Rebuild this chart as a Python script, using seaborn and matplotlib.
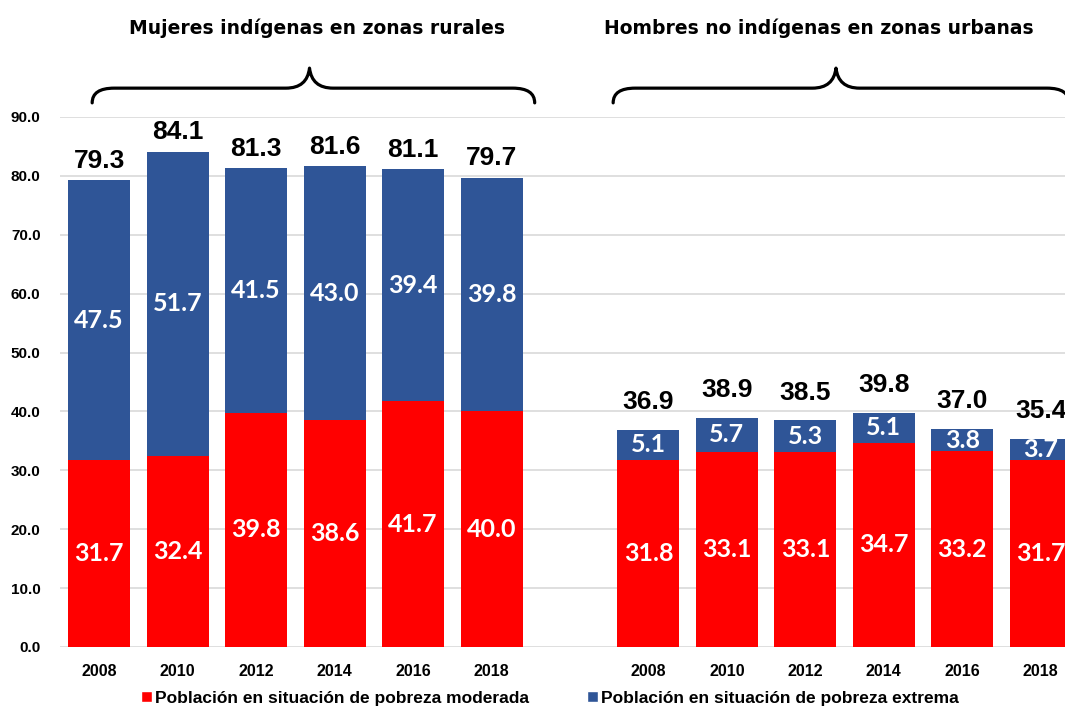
import matplotlib
matplotlib.use("Agg")
import matplotlib.pyplot as plt
from matplotlib.path import Path
from matplotlib.patches import PathPatch, Patch
import seaborn as sns
import pandas as pd

# --- data -----------------------------------------------------------------
anios = ["2008", "2010", "2012", "2014", "2016", "2018"]

mujeres_moderada = [31.7, 32.4, 39.8, 38.6, 41.7, 40.0]
mujeres_extrema = [47.5, 51.7, 41.5, 43.0, 39.4, 39.8]
mujeres_total = [79.3, 84.1, 81.3, 81.6, 81.1, 79.7]

hombres_moderada = [31.8, 33.1, 33.1, 34.7, 33.2, 31.7]
hombres_extrema = [5.1, 5.7, 5.3, 5.1, 3.8, 3.7]
hombres_total = [36.9, 38.9, 38.5, 39.8, 37.0, 35.4]

grupos = ["Mujeres indígenas en zonas rurales", "Hombres no indígenas en zonas urbanas"]
serie_moderada = "Población en situación de pobreza moderada"
serie_extrema = "Población en situación de pobreza extrema"

ROJO = "#FF0000"
AZUL = "#2F5597"
GRIS = "#D9D9D9"

# --- table for seaborn ------------------------------------------------------
claves_m = [f"M{a}" for a in anios]
claves_h = [f"H{a}" for a in anios]
df = pd.DataFrame({
    "clave": claves_m + claves_h,
    "total": mujeres_total + hombres_total,
    "moderada": mujeres_moderada + hombres_moderada,
    "extrema": mujeres_extrema + hombres_extrema,
})
orden = claves_m + ["_hueco"] + claves_h

sns.set_theme(style="white")
plt.rcParams["font.family"] = ["Liberation Sans", "DejaVu Sans"]
plt.rcParams["text.color"] = "black"
plt.rcParams["xtick.color"] = "black"
plt.rcParams["ytick.color"] = "black"

fig = plt.figure(figsize=(10.65, 7.07), dpi=100)
ax = fig.add_axes([60 / 1065, 60 / 707, 1020 / 1065, 530 / 707])

ANCHO = 0.79
sns.barplot(data=df, x="clave", y="total", order=orden, color=AZUL,
            saturation=1, width=ANCHO, errorbar=None, linewidth=0, ax=ax)
sns.barplot(data=df, x="clave", y="moderada", order=orden, color=ROJO,
            saturation=1, width=ANCHO, errorbar=None, linewidth=0, ax=ax)

ax.set_xlim(-0.5, 12.5)
ax.set_ylim(0, 90)
ax.set_yticks(range(0, 91, 10))
ax.set_yticklabels([f"{v:.1f}" for v in range(0, 91, 10)],
                   fontsize=11, fontweight="bold")
ax.set_xticks(range(13))
ax.set_xticklabels(anios + [""] + anios, fontsize=11.5, fontweight="bold")
ax.tick_params(axis="both", length=0, colors="black")
ax.tick_params(axis="x", pad=12)
ax.tick_params(axis="y", pad=14)
ax.set_xlabel("")
ax.set_ylabel("")
ax.yaxis.grid(True, color=GRIS, linewidth=1.2)
ax.set_axisbelow(True)
for s in ax.spines.values():
    s.set_visible(False)

# --- value labels ------------------------------------------------------------
posiciones = {c: i for i, c in enumerate(orden)}
for _, fila in df.iterrows():
    x = posiciones[fila["clave"]]
    mod, ext, tot = fila["moderada"], fila["extrema"], fila["total"]
    ax.text(x, mod / 2, f"{mod:.1f}", ha="center", va="center", color="white",
            fontsize=18, fontweight="bold", family="Lato")
    ax.text(x, mod + (tot - mod) / 2, f"{ext:.1f}", ha="center", va="center",
            color="white", fontsize=18, fontweight="bold", family="Lato")
    despl = 14 if fila["clave"].startswith("M") else 20
    ax.annotate(f"{tot:.1f}", (x, tot), xytext=(0, despl),
                textcoords="offset points", ha="center", va="center",
                fontsize=19, fontweight="bold", color="black",
                annotation_clip=False)


# --- group braces and titles -------------------------------------------------
def llave(ax, x0, x1, xc, yb=92.4, ym=94.9, yt=98.3, r=0.28, r2=0.3):
    verts = [
        (x0, yb), (x0, ym), (x0 + r, ym),
        (xc - r2, ym),
        (xc - 0.03, ym), (xc, yt),
        (xc + 0.03, ym), (xc + r2, ym),
        (x1 - r, ym),
        (x1, ym), (x1, yb),
    ]
    codes = [Path.MOVETO, Path.CURVE3, Path.CURVE3,
             Path.LINETO,
             Path.CURVE3, Path.CURVE3,
             Path.CURVE3, Path.CURVE3,
             Path.LINETO,
             Path.CURVE3, Path.CURVE3]
    ax.add_patch(PathPatch(Path(verts, codes), facecolor="none",
                           edgecolor="black", linewidth=2.3,
                           capstyle="round", joinstyle="round",
                           clip_on=False))


llave(ax, -0.09, 5.55, 2.68)
llave(ax, 6.55, 12.36, 9.39)

fig.text(317 / 1065, 1 - 28 / 707, grupos[0], ha="center", va="center",
         fontsize=13.5, fontweight="bold", family="DejaVu Sans", color="black")
fig.text(819 / 1065, 1 - 28 / 707, grupos[1], ha="center", va="center",
         fontsize=13.5, fontweight="bold", family="DejaVu Sans", color="black")

# --- legend ------------------------------------------------------------------
manejadores = [Patch(facecolor=ROJO, label=serie_moderada),
               Patch(facecolor=AZUL, label=serie_extrema)]
fig.legend(handles=manejadores, loc="center", ncol=2,
           bbox_to_anchor=(549.5 / 1065, 9 / 707), frameon=False,
           prop={"weight": "bold", "size": 12.5}, handlelength=0.63,
           handleheight=0.63, handletextpad=0.17, columnspacing=3.35,
           borderaxespad=0, borderpad=0, labelcolor="black")

fig.savefig("out.png", dpi=100)
